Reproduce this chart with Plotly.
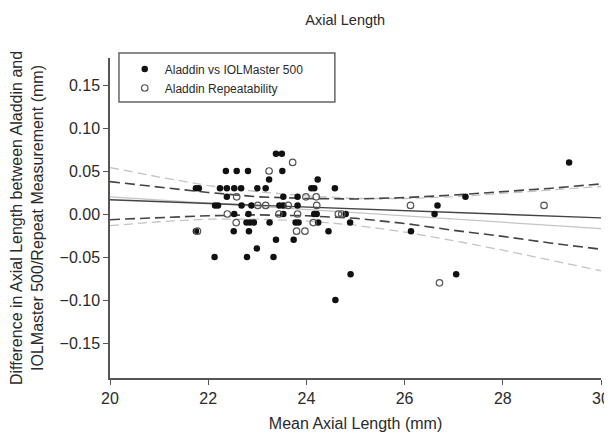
import plotly.graph_objects as go

# Aladdin vs IOLMaster 500 (filled)
iol_x = [23.38, 23.50,
         22.36, 22.58, 22.81, 23.51,
         23.24, 24.23,
         21.75, 21.81, 22.24, 22.38, 22.53, 22.67, 23.00, 23.17, 24.10, 24.16, 24.58,
         22.38, 23.53, 23.82, 27.24,
         22.14, 22.20, 22.68, 22.88, 23.45, 23.53, 23.82, 26.67,
         22.53, 22.82, 23.53, 24.16, 24.21, 24.80, 26.61,
         22.78, 22.85, 22.93, 23.25, 23.78, 23.84, 24.24, 24.89,
         21.75, 22.52, 22.83, 24.45, 26.13,
         23.38, 23.74,
         22.99,
         22.13, 22.79, 23.33,
         24.90, 27.05,
         24.59,
         29.35]
iol_y = [0.07, 0.07,
         0.05, 0.05, 0.05, 0.05,
         0.04, 0.04,
         0.03, 0.03, 0.03, 0.03, 0.03, 0.03, 0.03, 0.03, 0.03, 0.03, 0.03,
         0.02, 0.02, 0.02, 0.02,
         0.01, 0.01, 0.01, 0.01, 0.01, 0.01, 0.01, 0.01,
         0.00, 0.00, 0.00, 0.00, 0.00, 0.00, 0.00,
         -0.01, -0.01, -0.01, -0.01, -0.01, -0.01, -0.01, -0.01,
         -0.02, -0.02, -0.02, -0.02, -0.02,
         -0.03, -0.03,
         -0.04,
         -0.05, -0.05, -0.05,
         -0.07, -0.07,
         -0.10,
         0.06]

# Aladdin Repeatability (open)
rep_x = [23.72, 23.24,
         22.58, 23.99, 24.20,
         23.01, 23.17, 23.63, 24.21, 26.12, 28.84,
         22.39, 23.44, 23.82, 24.65, 24.72,
         22.57, 24.14,
         21.78, 23.80, 23.97,
         26.71]
rep_y = [0.06, 0.05,
         0.02, 0.02, 0.02,
         0.01, 0.01, 0.01, 0.01, 0.01, 0.01,
         0.00, 0.00, 0.00, 0.00, 0.00,
         -0.01, -0.01,
         -0.02, -0.02, -0.02,
         -0.08]

# Regression lines and confidence bands
line_x = [20, 30]
iol_fit = [0.0165, -0.0045]
rep_fit = [0.020, -0.017]

band_x = [20, 21, 22, 23, 24, 25, 26, 27, 28, 29, 30]
iol_upper = [0.0376, 0.031, 0.025, 0.020, 0.018, 0.0175, 0.019, 0.022, 0.026, 0.030, 0.035]
iol_lower = [-0.0066, -0.004, -0.002, -0.001, -0.002, -0.005, -0.011, -0.019, -0.026, -0.034, -0.041]
rep_upper = [0.054, 0.043, 0.033, 0.026, 0.021, 0.018, 0.018, 0.020, 0.024, 0.028, 0.032]
rep_lower = [-0.0136, -0.009, -0.006, -0.006, -0.008, -0.013, -0.021, -0.031, -0.042, -0.054, -0.066]

x_ticks = [20, 22, 24, 26, 28, 30]
y_ticks = [-0.15, -0.10, -0.05, 0.00, 0.05, 0.10, 0.15]
y_ticktext = [f"{v:.2f}".replace("-", "\u2212") for v in y_ticks]

FONT = "Liberation Sans, Arial, sans-serif"
TXT = "#2a2a2a"

fig = go.Figure()

# gray (repeatability) lines
fig.add_trace(go.Scatter(x=band_x, y=rep_upper, mode="lines", showlegend=False,
                         line=dict(color="#c4c4c4", width=1.3, dash="9px,5px")))
fig.add_trace(go.Scatter(x=band_x, y=rep_lower, mode="lines", showlegend=False,
                         line=dict(color="#c4c4c4", width=1.3, dash="9px,5px")))
fig.add_trace(go.Scatter(x=line_x, y=rep_fit, mode="lines", showlegend=False,
                         line=dict(color="#c4c4c4", width=1.3)))
# dark (IOLMaster) lines
fig.add_trace(go.Scatter(x=band_x, y=iol_upper, mode="lines", showlegend=False,
                         line=dict(color="#444444", width=1.6, dash="10px,5px")))
fig.add_trace(go.Scatter(x=band_x, y=iol_lower, mode="lines", showlegend=False,
                         line=dict(color="#444444", width=1.6, dash="10px,5px")))
fig.add_trace(go.Scatter(x=line_x, y=iol_fit, mode="lines", showlegend=False,
                         line=dict(color="#444444", width=1.4)))

fig.add_trace(go.Scatter(x=iol_x, y=iol_y, mode="markers", name="Aladdin vs IOLMaster 500",
                         marker=dict(symbol="circle", size=6.5, color="#111111",
                                     line=dict(width=0))))
fig.add_trace(go.Scatter(x=rep_x, y=rep_y, mode="markers", name="Aladdin Repeatability",
                         marker=dict(symbol="circle-open", size=6.5, color="#555555",
                                     line=dict(width=1.2))))

fig.update_layout(
    width=612, height=435,
    margin=dict(l=102, r=19, t=50, b=65, autoexpand=False),
    paper_bgcolor="white", plot_bgcolor="white",
    font=dict(family=FONT, color=TXT, size=12),
    title=dict(text="Axial Length", x=0.551, xanchor="center", y=0.972, yanchor="middle",
               font=dict(size=14.5, color=TXT)),
    legend=dict(x=0.03, y=1.011, xanchor="left", yanchor="top",
                borderwidth=0, bgcolor="rgba(0,0,0,0)",
                font=dict(size=12, color=TXT), tracegroupgap=0, itemwidth=30),
    shapes=[dict(type="rect", xref="paper", yref="paper",
                 x0=0.0183, x1=0.458, y0=0.8625, y1=1.0156,
                 line=dict(color="#666666", width=1.5), layer="below")],
    xaxis=dict(range=[20, 30], tickvals=x_ticks, ticktext=[str(v) for v in x_ticks],
               showgrid=False, zeroline=False, showline=True, linecolor="#555555", linewidth=1.5,
               ticks="outside", ticklen=5, tickcolor="#555555", tickwidth=1.2,
               tickfont=dict(size=16, color=TXT), automargin=False,
               title=dict(text="Mean Axial Length (mm)", font=dict(size=16, color=TXT), standoff=12)),
    yaxis=dict(range=[-0.1907, 0.1814], tickvals=y_ticks, ticktext=y_ticktext,
               showgrid=False, zeroline=False, showline=True, linecolor="#555555", linewidth=1.5,
               ticks="outside", ticklen=5, tickcolor="#555555", tickwidth=1.2,
               tickfont=dict(size=16, color=TXT), automargin=False,
               title=dict(text="Difference in Axial Length between Aladdin and<br>IOLMaster 500/Repeat Measurement (mm)",
                          font=dict(size=16, color=TXT), standoff=12)),
)

fig.write_html("out.html")
